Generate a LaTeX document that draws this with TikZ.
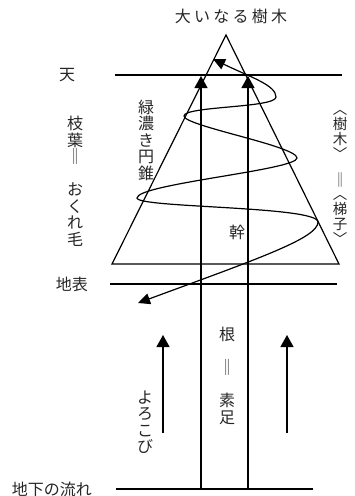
\documentclass[tikz,border=0pt]{standalone}
\usepackage{fontspec}
\newfontfamily\jp{Noto Sans CJK JP}
\usetikzlibrary{arrows.meta}
\begin{document}
\begin{tikzpicture}[x=1pt,y=-1pt,
  ln/.style={line width=1.2pt, draw=black},
  uptip/.style={-{Triangle[length=12pt,width=13pt]}},
  lbl/.style={font=\jp\fontsize{16}{16.5}\selectfont, text=black!85, inner sep=0pt},
  vlbl/.style={lbl, align=center},
  slbl/.style={font=\jp\fontsize{14.5}{15}\selectfont, text=black!85, inner sep=0pt, align=center},
]
\useasboundingbox (0,0) rectangle (354,496);

% main geometry
\coordinate (apex) at (226,35);
\coordinate (bl) at (112,264);
\coordinate (br) at (339,264);
\draw[ln, line join=miter] (apex) -- (bl) -- (br) -- cycle;

\coordinate (tenL) at (115,75);   \coordinate (tenR) at (342,75);
\coordinate (chiL) at (110,284);  \coordinate (chiR) at (337,284);
\coordinate (kaL) at (116,489);   \coordinate (kaR) at (313,489);
\draw[ln] (tenL) -- (tenR);
\draw[ln] (chiL) -- (chiR);
\draw[ln] (kaL) -- (kaR);

% trunk
\coordinate (t1b) at (201,489); \coordinate (t1t) at (201,76);
\coordinate (t2b) at (248,489); \coordinate (t2t) at (248,76);
\draw[ln, uptip] (t1b) -- (t1t);
\draw[ln, uptip] (t2b) -- (t2t);

% rising arrows
\coordinate (a1b) at (163,433); \coordinate (a1t) at (163,335);
\coordinate (a2b) at (287,433); \coordinate (a2t) at (287,335);
\draw[ln, uptip] (a1b) -- (a1t);
\draw[ln, uptip] (a2b) -- (a2t);

% spiral
\coordinate (S) at (213,59);
\coordinate (R1) at (276,97);
\coordinate (L1) at (184,116);
\coordinate (R2) at (297,158);
\coordinate (L2) at (137,198);
\coordinate (R3) at (318,222);
\coordinate (E) at (138,303);
\draw[ln, {Triangle[length=12pt,width=11pt]}-{Triangle[length=12pt,width=11pt]}]
  (S) .. controls (250,77) and (276,85) .. (R1)
      .. controls (276,108) and (184,106) .. (L1)
      .. controls (184,126) and (297,146) .. (R2)
      .. controls (297,170) and (137,184) .. (L2)
      .. controls (137,208) and (318,206) .. (R3)
      .. controls (318,238) and (260,258) .. (E);

% labels
\node[lbl] (title) at (231,16) {大\hspace{3.3pt}い\hspace{3.3pt}な\hspace{3.3pt}る\hspace{3.3pt}樹\hspace{3.3pt}木};
\node[lbl] (ten) at (67,75) {天};
\node[lbl] (chihyo) at (72,284) {地表};
\node[lbl] (chika) at (52,489) {地下の流れ};
\node[vlbl] (edaha) at (75,181.5) {枝\\葉\\‖\\[16.5pt]お\\く\\れ\\毛};
\node[vlbl] (midori) at (146,140) {緑\\濃\\き\\円\\錐};
\node[vlbl] (ne) at (227,376) {根\\[16.5pt]‖\\[16.5pt]素\\足};
\node[vlbl] (yoro) at (145,422) {よ\\ろ\\こ\\び};
\node[lbl] (miki) at (237,232) {幹};
\node[slbl] (jumoku) at (340,135) {︿\\樹\\木\\﹀};
\node[slbl] (eq) at (340,180) {‖};
\node[slbl] (hashigo) at (340,220) {︿\\梯\\子\\﹀};
\end{tikzpicture}
\end{document}
